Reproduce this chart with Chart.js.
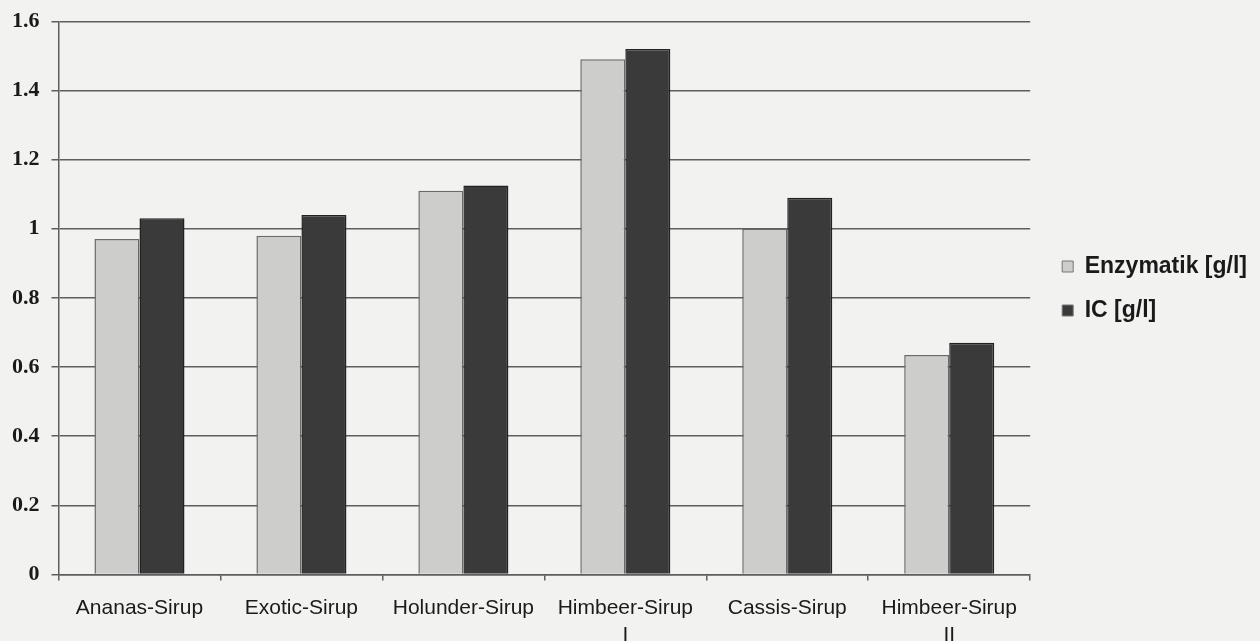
<!DOCTYPE html>
<html>
<head>
<meta charset="utf-8">
<script src="https://cdn.jsdelivr.net/npm/chart.js@4/dist/chart.umd.min.js"></script>
<style>
  html, body { margin: 0; padding: 0; background: #f2f2f0; }
  #wrap { width: 1260px; height: 641px; position: relative; }
</style>
</head>
<body>
<div id="wrap"><canvas id="c" width="1260" height="641"></canvas></div>
<script>
const categories = [
  "Ananas-Sirup",
  "Exotic-Sirup",
  "Holunder-Sirup",
  ["Himbeer-Sirup", "I"],
  "Cassis-Sirup",
  ["Himbeer-Sirup", "II"]
];
const enzymatik = [0.97, 0.98, 1.11, 1.49, 1.00, 0.635];
const ic = [1.03, 1.04, 1.125, 1.52, 1.09, 0.67];
const seriesNames = ["Enzymatik [g/l]", "IC [g/l]"];
const yTicks = [0, 0.2, 0.4, 0.6, 0.8, 1, 1.2, 1.4, 1.6];

const lineCol = '#5e5e5e';

const legendShift = {
  id: 'legendShift',
  afterLayout(chart) {
    if (chart.legend) { chart.legend.left += 11; chart.legend.right += 11; }
  }
};

new Chart(document.getElementById('c'), {
  type: 'bar',
  data: {
    labels: categories,
    datasets: [
      { label: seriesNames[0], data: enzymatik, backgroundColor: '#cdcdcb', borderColor: '#6a6a6a', borderWidth: 1.5, borderSkipped: 'bottom' },
      { label: seriesNames[1], data: ic, backgroundColor: '#3a3a3a', borderColor: '#222', borderWidth: 1.5, borderSkipped: 'bottom' }
    ]
  },
  plugins: [legendShift],
  options: {
    responsive: false,
    animation: false,
    devicePixelRatio: 1,
    layout: { padding: { left: 0, top: 0, right: 14, bottom: -22 } },
    datasets: { bar: { barPercentage: 1.0, categoryPercentage: 0.556 } },
    plugins: {
      tooltip: { enabled: false },
      legend: {
        position: 'right',
        align: 'start',
        title: { display: true, text: ' ', font: { size: 10 }, padding: { top: 0, bottom: 222 } },
        labels: {
          boxWidth: 11,
          boxHeight: 11,
          padding: 21,
          color: '#1a1a1a',
          font: { family: 'Liberation Sans', size: 23, weight: 'bold' },
          generateLabels: (chart) => chart.data.datasets.map((ds, i) => ({
            text: ds.label,
            fillStyle: ds.backgroundColor,
            strokeStyle: '#777',
            lineWidth: 1,
            fontColor: '#1a1a1a',
            datasetIndex: i
          }))
        }
      }
    },
    scales: {
      x: {
        offset: true,
        grid: {
          offset: true,
          drawOnChartArea: true,
          color: (ctx) => ctx.index === categories.length ? lineCol : 'rgba(0,0,0,0)',
          tickColor: lineCol,
          tickLength: 6,
          lineWidth: 1.5
        },
        border: { display: true, color: lineCol, width: 1.5 },
        ticks: {
          color: '#1a1a1a',
          padding: 14,
          maxRotation: 0,
          autoSkip: false,
          font: { family: 'Liberation Sans', size: 21, lineHeight: 1.3 }
        }
      },
      y: {
        min: 0,
        max: 1.6,
        afterBuildTicks: (axis) => { axis.ticks = yTicks.map(v => ({ value: v })); },
        grid: { color: lineCol, lineWidth: 1.5, tickLength: 7, tickColor: lineCol },
        border: { display: true, color: lineCol, width: 1.5 },
        ticks: {
          color: '#1a1a1a',
          padding: 12,
          font: { family: 'Liberation Serif', size: 22, weight: 'bold', lineHeight: 0.85 },
          callback: (v) => String(Math.round(v * 10) / 10)
        }
      }
    }
  }
});
</script>
</body>
</html>
